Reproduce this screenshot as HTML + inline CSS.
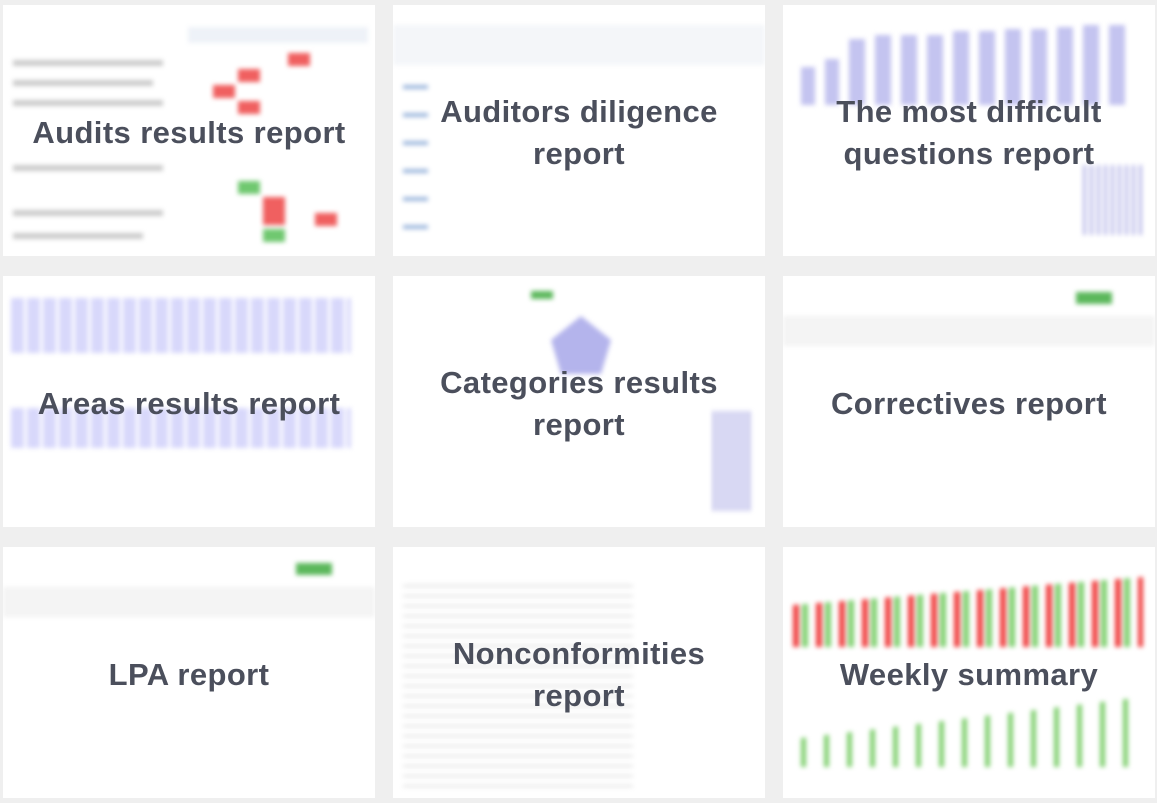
<!DOCTYPE html>
<html><head><meta charset="utf-8"><style>
body{margin:0;width:1157px;height:803px;background:#efefef;position:relative;overflow:hidden;font-family:"Liberation Sans",sans-serif}
.c{position:absolute;width:372px;height:251px;background:#fff;overflow:hidden}
.bg{position:absolute;inset:0;filter:blur(2.5px)}
.t{position:absolute;inset:0;padding-top:4px;display:flex;align-items:center;justify-content:center;text-align:center;font-weight:bold;font-size:31px;line-height:42px;color:#4b4f5c;letter-spacing:0.4px}
.bar{position:absolute;bottom:0}
</style></head><body>

<div class="c" style="left:3px;top:5px"><div class="bg">
<div style="position:absolute;left:185px;top:22px;width:180px;height:16px;background:#eef2f8"></div>
<div style="position:absolute;left:10px;top:55px;width:150px;height:6px;background:#ccc"></div>
<div style="position:absolute;left:10px;top:75px;width:140px;height:6px;background:#ccc"></div>
<div style="position:absolute;left:10px;top:95px;width:150px;height:6px;background:#ccc"></div>
<div style="position:absolute;left:10px;top:160px;width:150px;height:6px;background:#ccc"></div>
<div style="position:absolute;left:10px;top:205px;width:150px;height:6px;background:#ccc"></div>
<div style="position:absolute;left:10px;top:228px;width:130px;height:6px;background:#ccc"></div>
<div style="position:absolute;left:285px;top:48px;width:22px;height:13px;background:#f06060"></div>
<div style="position:absolute;left:235px;top:64px;width:22px;height:13px;background:#f06060"></div>
<div style="position:absolute;left:210px;top:80px;width:22px;height:13px;background:#f06060"></div>
<div style="position:absolute;left:235px;top:96px;width:22px;height:13px;background:#f06060"></div>
<div style="position:absolute;left:235px;top:176px;width:22px;height:13px;background:#70c870"></div>
<div style="position:absolute;left:260px;top:192px;width:22px;height:28px;background:#f06060"></div>
<div style="position:absolute;left:312px;top:208px;width:22px;height:13px;background:#f06060"></div>
<div style="position:absolute;left:260px;top:224px;width:22px;height:13px;background:#70c870"></div>
</div><div class="t">Audits results report</div></div>

<div class="c" style="left:393px;top:5px"><div class="bg">
<div style="position:absolute;left:0;top:20px;width:372px;height:40px;background:#f4f6f9"></div>
<div style="position:absolute;left:10px;top:70px;width:25px;height:170px;background:repeating-linear-gradient(#fff 0 10px,#9bb6dc 10px 14px,#fff 14px 28px)"></div>
</div><div class="t">Auditors diligence<br>report</div></div>

<div class="c" style="left:783px;top:5px"><div class="bg">
<div style="position:absolute;left:18px;top:18px;width:340px;height:82px">
<div class="bar" style="left:0;width:14px;height:38px;background:#c4c4f0"></div>
<div class="bar" style="left:24px;width:14px;height:46px;background:#c4c4f0"></div>
<div class="bar" style="left:48px;width:16px;height:66px;background:#c4c4f0"></div>
<div class="bar" style="left:74px;width:16px;height:70px;background:#c4c4f0"></div>
<div class="bar" style="left:100px;width:16px;height:70px;background:#c4c4f0"></div>
<div class="bar" style="left:126px;width:16px;height:70px;background:#c4c4f0"></div>
<div class="bar" style="left:152px;width:16px;height:74px;background:#c4c4f0"></div>
<div class="bar" style="left:178px;width:16px;height:74px;background:#c4c4f0"></div>
<div class="bar" style="left:204px;width:16px;height:76px;background:#c4c4f0"></div>
<div class="bar" style="left:230px;width:16px;height:76px;background:#c4c4f0"></div>
<div class="bar" style="left:256px;width:16px;height:78px;background:#c4c4f0"></div>
<div class="bar" style="left:282px;width:16px;height:80px;background:#c4c4f0"></div>
<div class="bar" style="left:308px;width:16px;height:80px;background:#c4c4f0"></div>
</div>
<div style="position:absolute;left:300px;top:160px;width:60px;height:70px;background:repeating-linear-gradient(90deg,#b8b8e8 0 3px,#fff 3px 7px)"></div>
</div><div class="t">The most difficult<br>questions report</div></div>

<div class="c" style="left:3px;top:276px"><div class="bg">
<div style="position:absolute;left:8px;top:22px;width:340px;height:55px;background:repeating-linear-gradient(90deg,#d8d8fb 0 13px,#fff 13px 16px)"></div>
<div style="position:absolute;left:8px;top:132px;width:340px;height:40px;background:repeating-linear-gradient(90deg,#d8d8fb 0 13px,#fff 13px 16px)"></div>
</div><div class="t">Areas results report</div></div>

<div class="c" style="left:393px;top:276px"><div class="bg">
<div style="position:absolute;left:138px;top:15px;width:22px;height:8px;background:#5cb85c"></div>
<svg style="position:absolute;left:0;top:0" width="372" height="251"><polygon points="188,40 218,64 208,98 168,98 158,64" fill="#b4b4ec"/></svg>
<div style="position:absolute;left:320px;top:135px;width:40px;height:100px;background:repeating-linear-gradient(90deg,#9e9ee0 0 2px,#fff 2px 5px)"></div>
</div><div class="t">Categories results<br>report</div></div>

<div class="c" style="left:783px;top:276px"><div class="bg">
<div style="position:absolute;left:293px;top:16px;width:36px;height:12px;background:#5cb85c"></div>
<div style="position:absolute;left:0;top:40px;width:372px;height:30px;background:#f4f4f4"></div>
</div><div class="t">Correctives report</div></div>

<div class="c" style="left:3px;top:547px"><div class="bg">
<div style="position:absolute;left:293px;top:16px;width:36px;height:12px;background:#5cb85c"></div>
<div style="position:absolute;left:0;top:40px;width:372px;height:30px;background:#f4f4f4"></div>
</div><div class="t">LPA report</div></div>

<div class="c" style="left:393px;top:547px"><div class="bg">
<div style="position:absolute;left:10px;top:30px;width:230px;height:210px;background:repeating-linear-gradient(#fff 0 8px,#e0e0e0 8px 10px)"></div>
</div><div class="t">Nonconformities<br>report</div></div>

<div class="c" style="left:783px;top:547px"><div class="bg">
<div style="position:absolute;left:10px;top:30px;width:350px;height:70px;background:repeating-linear-gradient(90deg,#f04040 0 6px,#fff 6px 9px,#80d070 9px 15px,#fff 15px 23px);clip-path:polygon(0 40%,100% 0,100% 100%,0 100%)"></div>
<div style="position:absolute;left:10px;top:150px;width:350px;height:70px;background:repeating-linear-gradient(90deg,#fff 0 8px,#80d070 8px 13px,#fff 13px 23px);clip-path:polygon(0 60%,100% 0,100% 100%,0 100%)"></div>
</div><div class="t">Weekly summary</div></div>

</body></html>
